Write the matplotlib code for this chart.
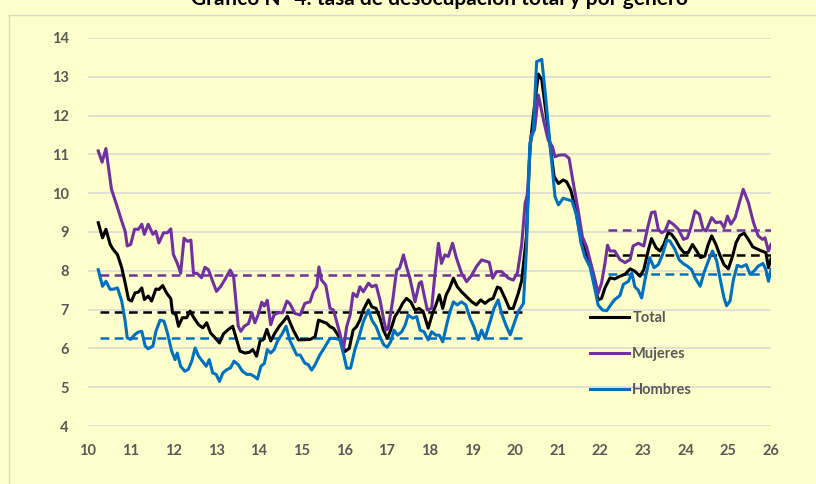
import matplotlib
matplotlib.use("Agg")
import matplotlib.pyplot as plt
from matplotlib.lines import Line2D

# tasa de desocupación (%), series
t_total = [10.24, 10.34, 10.42, 10.52, 10.59, 10.69, 10.79, 10.87, 10.95, 11.02, 11.10, 11.18, 11.26, 11.32,
           11.41, 11.49, 11.59, 11.66, 11.75, 11.84, 11.94, 11.98, 12.06, 12.12, 12.21, 12.31, 12.39, 12.48,
           12.59, 12.69, 12.78, 12.87, 12.98, 13.08, 13.17, 13.29, 13.39, 13.48, 13.56, 13.68, 13.78, 13.86,
           13.95, 14.03, 14.11, 14.19, 14.28, 14.38, 14.48, 14.58, 14.67, 14.81, 14.93, 15.20, 15.32, 15.40,
           15.49, 15.59, 15.67, 15.75, 15.83, 15.92, 16.02, 16.12, 16.21, 16.29, 16.37, 16.45, 16.57, 16.65,
           16.75, 16.84, 16.92, 17.01, 17.09, 17.19, 17.29, 17.37, 17.46, 17.56, 17.66, 17.76, 17.85, 17.97,
           18.07, 18.15, 18.23, 18.31, 18.39, 18.47, 18.56, 18.65, 18.75, 18.87, 18.99, 19.10, 19.20, 19.30,
           19.40, 19.49, 19.59, 19.66, 19.77, 19.87, 19.96, 20.08, 20.16, 20.27, 20.35, 20.43, 20.55, 20.63,
           20.72, 20.82, 20.92, 21.02, 21.13, 21.21, 21.31, 21.41, 21.52, 21.62, 21.76, 21.86, 21.95, 22.03,
           22.11, 22.23, 22.34, 22.46, 22.58, 22.70, 22.81, 22.93, 23.02, 23.13, 23.20, 23.31, 23.40, 23.49,
           23.59, 23.67, 23.77, 23.87, 23.96, 24.06, 24.16, 24.26, 24.35, 24.45, 24.53, 24.61, 24.71, 24.81,
           24.90, 25.00, 25.10, 25.18, 25.27, 25.37, 25.47, 25.57, 25.66, 25.78, 25.88, 25.94, 26.00]
v_total = [9.24, 8.85, 9.07, 8.68, 8.55, 8.42, 8.08, 7.69, 7.26, 7.22, 7.43, 7.45, 7.56, 7.26,
           7.35, 7.22, 7.53, 7.52, 7.62, 7.43, 7.28, 6.92, 6.87, 6.57, 6.79, 6.79, 6.96, 6.79,
           6.61, 6.53, 6.66, 6.40, 6.27, 6.14, 6.37, 6.49, 6.57, 6.23, 5.93, 5.88, 5.90, 5.97,
           5.80, 6.19, 6.23, 6.49, 6.19, 6.40, 6.57, 6.70, 6.83, 6.47, 6.22, 6.23, 6.30, 6.73,
           6.69, 6.65, 6.56, 6.52, 6.39, 6.22, 5.92, 6.00, 6.47, 6.56, 6.73, 6.99, 7.25, 7.07,
           7.03, 6.78, 6.47, 6.26, 6.47, 6.82, 6.99, 7.16, 7.29, 7.20, 6.99, 7.03, 6.95, 6.52,
           6.90, 7.12, 7.38, 7.03, 7.38, 7.55, 7.81, 7.59, 7.46, 7.33, 7.20, 7.12, 7.25, 7.16,
           7.25, 7.29, 7.58, 7.55, 7.29, 7.03, 7.03, 7.42, 7.75, 8.88, 11.11, 11.97, 13.07, 12.92,
           12.14, 11.29, 10.43, 10.25, 10.34, 10.30, 10.08, 9.65, 8.97, 8.62, 8.19, 7.68, 7.25, 7.29,
           7.56, 7.82, 7.79, 7.86, 7.91, 8.05, 7.99, 7.86, 8.03, 8.55, 8.83, 8.59, 8.51, 8.68,
           8.98, 8.94, 8.79, 8.59, 8.47, 8.47, 8.68, 8.51, 8.34, 8.38, 8.68, 8.90, 8.68, 8.38,
           8.16, 8.05, 8.38, 8.72, 8.91, 8.97, 8.81, 8.62, 8.57, 8.51, 8.47, 8.08, 8.31]

t_mujeres = [10.24, 10.33, 10.42, 10.55, 10.67, 10.79, 10.87, 10.92, 11.00, 11.09, 11.18, 11.26, 11.32, 11.41,
             11.52, 11.59, 11.66, 11.77, 11.86, 11.94, 12.00, 12.09, 12.17, 12.25, 12.33, 12.41, 12.47, 12.56,
             12.66, 12.74, 12.82, 12.92, 13.01, 13.11, 13.21, 13.33, 13.41, 13.52, 13.58, 13.66, 13.76, 13.84,
             13.91, 13.99, 14.07, 14.13, 14.20, 14.28, 14.36, 14.46, 14.56, 14.66, 14.73, 14.85, 14.97, 15.08,
             15.20, 15.28, 15.36, 15.41, 15.47, 15.57, 15.67, 15.75, 15.90, 15.98, 16.06, 16.14, 16.21, 16.30,
             16.37, 16.45, 16.57, 16.65, 16.75, 16.84, 16.92, 16.98, 17.03, 17.14, 17.23, 17.30, 17.39, 17.47,
             17.54, 17.66, 17.76, 17.81, 17.89, 17.95, 18.05, 18.13, 18.21, 18.28, 18.36, 18.44, 18.54, 18.63,
             18.75, 18.87, 18.99, 19.10, 19.22, 19.40, 19.48, 19.57, 19.69, 19.77, 19.85, 19.96, 20.06, 20.16,
             20.24, 20.29, 20.38, 20.46, 20.55, 20.67, 20.78, 20.88, 20.94, 21.03, 21.17, 21.27, 21.37, 21.48,
             21.58, 21.68, 21.80, 21.88, 21.95, 22.03, 22.11, 22.17, 22.23, 22.34, 22.46, 22.58, 22.70, 22.77,
             22.89, 23.02, 23.11, 23.20, 23.28, 23.36, 23.44, 23.52, 23.61, 23.71, 23.83, 23.95, 24.04, 24.12,
             24.22, 24.32, 24.41, 24.48, 24.61, 24.71, 24.82, 24.90, 24.98, 25.06, 25.16, 25.26, 25.35, 25.47,
             25.59, 25.70, 25.80, 25.86, 25.94, 26.00]
v_mujeres = [11.09, 10.80, 11.15, 10.10, 9.70, 9.28, 9.02, 8.64, 8.68, 9.07, 9.07, 9.20, 8.94, 9.20,
             8.94, 9.02, 8.72, 8.98, 8.98, 9.08, 8.42, 8.20, 7.94, 8.84, 8.76, 8.79, 7.94, 7.93,
             7.82, 8.09, 8.03, 7.73, 7.47, 7.60, 7.78, 8.02, 7.86, 6.57, 6.44, 6.57, 6.64, 6.92,
             6.66, 6.88, 7.19, 7.09, 7.24, 6.61, 6.87, 6.92, 6.92, 7.22, 7.15, 6.90, 6.86, 7.16,
             7.20, 7.46, 7.59, 8.10, 7.76, 7.63, 7.03, 6.99, 6.39, 5.96, 6.56, 6.86, 7.42, 7.33,
             7.59, 7.46, 7.68, 7.59, 7.63, 7.25, 6.78, 6.47, 6.51, 7.25, 8.02, 8.07, 8.41, 8.07,
             7.81, 7.20, 7.68, 7.72, 7.29, 6.99, 7.03, 7.94, 8.71, 8.19, 8.41, 8.37, 8.71, 8.33,
             7.94, 7.72, 7.89, 8.11, 8.28, 8.22, 7.81, 7.98, 7.98, 7.89, 7.81, 7.76, 7.95, 8.68,
             9.74, 9.95, 11.50, 11.63, 12.53, 11.89, 11.37, 11.20, 10.94, 10.98, 10.99, 10.90, 10.25, 9.57,
             8.88, 8.62, 8.10, 7.76, 7.42, 7.68, 8.19, 8.66, 8.51, 8.51, 8.29, 8.21, 8.29, 8.64,
             8.71, 8.64, 9.11, 9.50, 9.52, 9.07, 8.98, 9.03, 9.28, 9.20, 9.07, 8.81, 8.85, 9.11,
             9.54, 9.46, 9.07, 9.03, 9.37, 9.24, 9.26, 9.11, 9.41, 9.20, 9.37, 9.76, 10.10, 9.76,
             9.24, 8.90, 8.81, 8.85, 8.51, 8.68]

t_hombres = [10.24, 10.34, 10.42, 10.52, 10.61, 10.69, 10.79, 10.87, 10.92, 11.00, 11.10, 11.18, 11.26, 11.34,
             11.41, 11.52, 11.59, 11.69, 11.78, 11.86, 11.96, 12.04, 12.09, 12.17, 12.27, 12.35, 12.43, 12.51,
             12.59, 12.68, 12.77, 12.84, 12.92, 13.00, 13.08, 13.16, 13.25, 13.34, 13.42, 13.52, 13.62, 13.72,
             13.81, 13.89, 13.97, 14.05, 14.13, 14.20, 14.28, 14.36, 14.44, 14.54, 14.64, 14.73, 14.89, 14.97,
             15.08, 15.16, 15.24, 15.32, 15.43, 15.55, 15.67, 15.79, 15.90, 16.00, 16.06, 16.15, 16.25, 16.35,
             16.45, 16.57, 16.65, 16.75, 16.84, 16.93, 17.01, 17.09, 17.17, 17.25, 17.35, 17.43, 17.50, 17.61,
             17.70, 17.78, 17.87, 17.97, 18.05, 18.15, 18.23, 18.31, 18.40, 18.48, 18.56, 18.65, 18.75, 18.85,
             18.95, 19.04, 19.14, 19.22, 19.30, 19.42, 19.51, 19.61, 19.69, 19.79, 19.89, 19.97, 20.08, 20.20,
             20.27, 20.35, 20.43, 20.51, 20.63, 20.72, 20.82, 20.94, 21.02, 21.13, 21.25, 21.34, 21.45, 21.55,
             21.64, 21.76, 21.88, 21.95, 22.05, 22.15, 22.27, 22.34, 22.46, 22.54, 22.66, 22.74, 22.81, 22.89,
             22.97, 23.05, 23.16, 23.26, 23.36, 23.46, 23.56, 23.63, 23.75, 23.85, 23.95, 24.04, 24.14, 24.22,
             24.34, 24.43, 24.53, 24.63, 24.73, 24.81, 24.90, 24.96, 25.04, 25.12, 25.21, 25.31, 25.42, 25.51,
             25.60, 25.70, 25.81, 25.88, 25.94, 26.00]
v_hombres = [8.03, 7.60, 7.73, 7.52, 7.53, 7.56, 7.22, 6.70, 6.27, 6.23, 6.36, 6.42, 6.44, 6.06,
             5.99, 6.06, 6.44, 6.73, 6.70, 6.40, 5.93, 5.71, 5.88, 5.54, 5.41, 5.46, 5.67, 6.01,
             5.80, 5.67, 5.54, 5.71, 5.37, 5.33, 5.15, 5.37, 5.45, 5.50, 5.67, 5.58, 5.41, 5.33,
             5.33, 5.28, 5.21, 5.54, 5.61, 5.97, 5.88, 5.97, 6.19, 6.36, 6.57, 6.20, 5.83, 5.83,
             5.62, 5.58, 5.44, 5.58, 5.83, 6.04, 6.26, 6.26, 6.22, 5.79, 5.49, 5.49, 5.96, 6.30,
             6.69, 6.99, 6.73, 6.56, 6.30, 6.09, 6.03, 6.17, 6.47, 6.34, 6.43, 6.60, 6.86, 6.78,
             6.82, 6.47, 6.43, 6.22, 6.43, 6.34, 6.34, 6.17, 6.60, 6.95, 7.20, 7.12, 7.20, 7.12,
             6.78, 6.56, 6.22, 6.47, 6.26, 6.69, 7.03, 7.25, 6.90, 6.60, 6.35, 6.60, 6.95, 7.16,
             8.54, 11.29, 11.58, 13.39, 13.45, 12.49, 11.29, 9.91, 9.70, 9.87, 9.83, 9.80, 9.40, 8.71,
             8.36, 8.10, 7.50, 7.12, 6.99, 6.97, 7.16, 7.26, 7.36, 7.65, 7.73, 7.95, 7.59, 7.50,
             7.30, 7.78, 8.34, 8.08, 8.16, 8.42, 8.79, 8.77, 8.55, 8.28, 8.18, 8.12, 8.03, 7.82,
             7.60, 7.95, 8.25, 8.51, 8.25, 7.78, 7.30, 7.10, 7.22, 7.78, 8.14, 8.10, 8.16, 7.91,
             7.99, 8.12, 8.19, 8.03, 7.73, 8.03]

# promedios por período (líneas discontinuas)
periodos = [(10.27, 20.17), (22.19, 26.0)]
prom_total = [6.93, 8.41]
prom_mujeres = [7.88, 9.04]
prom_hombres = [6.26, 7.93]

x_ticks = list(range(10, 27))
y_ticks = list(range(4, 15))

fondo = "#FFFFCC"
gris = "#595959"
c_total = "black"
c_mujeres = "#7030A0"
c_hombres = "#0070C0"

plt.rcParams["font.family"] = ["Lato", "DejaVu Sans"]

fig = plt.figure(figsize=(8.16, 4.84), dpi=100, facecolor=fondo)
ax = fig.add_axes([88 / 816, 1 - 426 / 484, 683 / 816, 388 / 484])
ax.set_facecolor(fondo)

# marco del gráfico
fig.add_artist(Line2D([9 / 816, 9 / 816], [-0.01, 1 - 15 / 484], transform=fig.transFigure,
                      color="#D9D9D9", lw=1))
fig.add_artist(Line2D([9 / 816, 1.01], [1 - 15 / 484, 1 - 15 / 484], transform=fig.transFigure,
                      color="#D9D9D9", lw=1))

fig.text(0.538, 1 - 5 / 484, "Gráfico N° 4: tasa de desocupación total y por género",
         ha="center", va="baseline", fontsize=15, fontweight="bold", color="black")

for (a, b), pt, pm, ph in zip(periodos, prom_total, prom_mujeres, prom_hombres):
    ax.plot([a, b], [pm, pm], color=c_mujeres, lw=1.8, dashes=(3.5, 2.2))
    ax.plot([a, b], [pt, pt], color=c_total, lw=1.8, dashes=(3.5, 2.2))
    ax.plot([a, b], [ph, ph], color=c_hombres, lw=1.8, dashes=(3.5, 2.2))

l1, = ax.plot(t_total, v_total, color=c_total, lw=2.2, label="Total")
l2, = ax.plot(t_mujeres, v_mujeres, color=c_mujeres, lw=2.2, label="Mujeres")
l3, = ax.plot(t_hombres, v_hombres, color=c_hombres, lw=2.2, label="Hombres")

ax.set_xlim(10, 26)
ax.set_ylim(4, 14)
ax.set_xticks(x_ticks)
ax.set_yticks(y_ticks)
ax.grid(axis="y", color="#D9D9D9", lw=1.1)
ax.set_axisbelow(True)
for s in ax.spines.values():
    s.set_visible(False)
ax.tick_params(length=0, labelsize=10.5, labelcolor=gris)
ax.tick_params(axis="y", pad=14)
ax.tick_params(axis="x", pad=13)
for lab in ax.get_xticklabels() + ax.get_yticklabels():
    lab.set_fontweight("bold")

leg = ax.legend(handles=[l1, l2, l3], loc="upper left", bbox_to_anchor=(590 / 816, 1 - 311 / 484),
                bbox_transform=fig.transFigure, frameon=False, fontsize=10.5, handlelength=2.7,
                handletextpad=0.2, labelspacing=1.5, borderpad=0, borderaxespad=0)
for txt in leg.get_texts():
    txt.set_color(gris)
    txt.set_fontweight("bold")

fig.savefig("out.png", dpi=100, facecolor=fondo)
